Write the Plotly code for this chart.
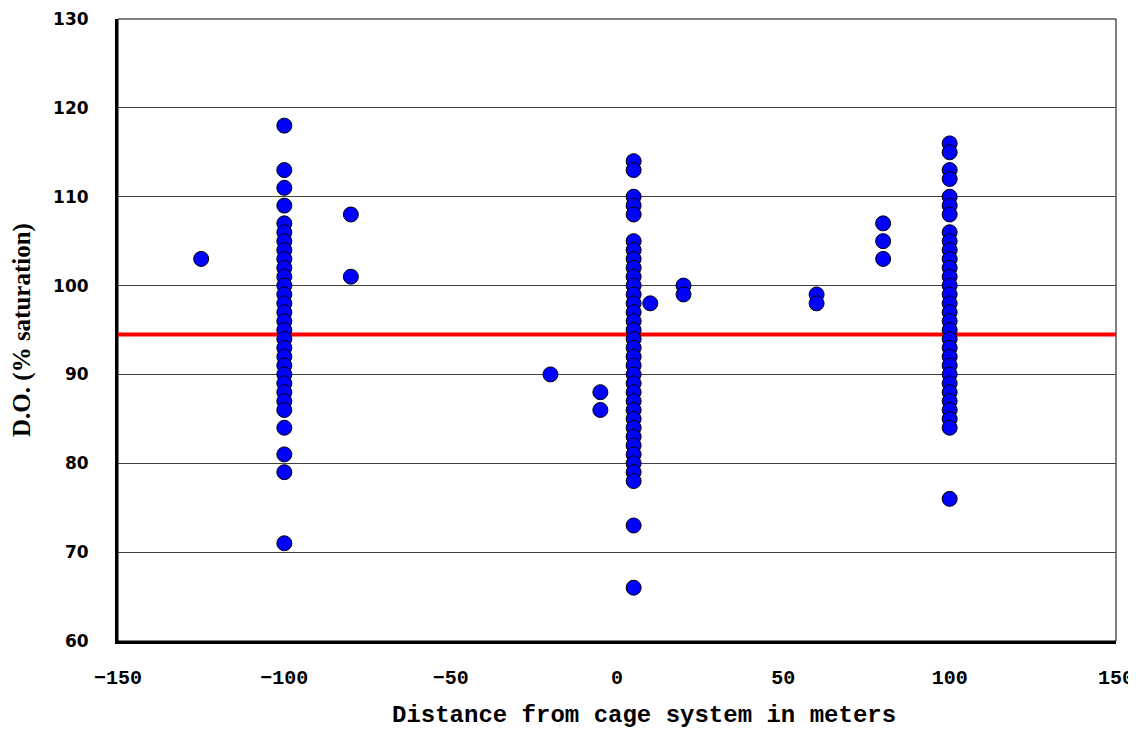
import plotly.graph_objects as go

# Data (x = distance in m, y = D.O. % saturation)
x_m100 = -100
y_m100 = [118, 113, 111, 109, 107, 106, 105, 104, 103, 102, 101, 100, 99, 98, 97, 96,
          95, 94, 93, 92, 91, 90, 89, 88, 87, 86, 84, 81, 79, 71]
x_5 = 5
y_5 = [114, 113, 110, 109, 108, 105, 104, 103, 102, 101, 100, 99, 98, 97, 96, 95, 94,
       93, 92, 91, 90, 89, 88, 87, 86, 85, 84, 83, 82, 81, 80, 79, 78, 73, 66]
x_100 = 100
y_100 = [116, 115, 113, 112, 110, 109, 108, 106, 105, 104, 103, 102, 101, 100, 99, 98,
         97, 96, 95, 94, 93, 92, 91, 90, 89, 88, 87, 86, 85, 84, 76]
x_other = [-125, -80, -80, -20, -5, -5, 10, 20, 20, 60, 60, 80, 80, 80]
y_other = [103, 108, 101, 90, 88, 86, 98, 100, 99, 99, 98, 107, 105, 103]

ref_level = 94.5
x_range = [-150, 150]
y_range = [60, 130]
x_ticks = [-150, -100, -50, 0, 50, 100, 150]
y_ticks = [60, 70, 80, 90, 100, 110, 120, 130]

xs = [x_m100] * len(y_m100) + [x_5] * len(y_5) + [x_100] * len(y_100) + x_other
ys = y_m100 + y_5 + y_100 + y_other

fig = go.Figure()
fig.add_trace(go.Scatter(
    x=x_range, y=[ref_level, ref_level], mode="lines",
    line=dict(color="#FF0000", width=4), hoverinfo="skip", showlegend=False))
fig.add_trace(go.Scatter(
    x=xs, y=ys, mode="markers",
    marker=dict(size=15, color="#0000FF", line=dict(color="#000000", width=1)),
    showlegend=False))

# thin frame on top/right
fig.add_shape(type="rect", xref="paper", yref="paper", x0=0, y0=0, x1=1, y1=1,
              line=dict(color="#000000", width=1), layer="below")

# x-axis title (slightly right of centre, as in the reference)
fig.add_annotation(
    text="Distance from cage system in meters", xref="paper", yref="paper",
    x=0.527, y=0, yshift=-74, xanchor="center", yanchor="middle", showarrow=False,
    font=dict(family="Liberation Mono", size=24, color="#000000", weight="bold"))

# page body has an 8px margin, so the figure is sized/offset to compensate
fig.update_layout(
    width=1128, height=724,
    margin=dict(l=110, r=20, t=11, b=91),
    paper_bgcolor="white", plot_bgcolor="white",
    showlegend=False,
    xaxis=dict(
        range=x_range, tickvals=x_ticks, showgrid=False, zeroline=False,
        showline=True, linecolor="#000000", linewidth=3, mirror=False,
        ticks="", ticklabelstandoff=16, automargin=False,
        tickfont=dict(family="Liberation Mono", size=20, color="#000000", weight="bold"),
    ),
    yaxis=dict(
        range=y_range, tickvals=y_ticks, showgrid=True, gridcolor="#404040", gridwidth=1,
        zeroline=False, showline=True, linecolor="#000000", linewidth=3, mirror=False,
        ticks="", ticklabelstandoff=23, automargin=False,
        tickfont=dict(family="DejaVu Sans", size=17, color="#000000", weight="bold"),
        title=dict(text="D.O. (% saturation)", standoff=16,
                   font=dict(family="Liberation Serif", size=25, color="#000000", weight="bold")),
    ),
)

fig.write_html("out.html")
